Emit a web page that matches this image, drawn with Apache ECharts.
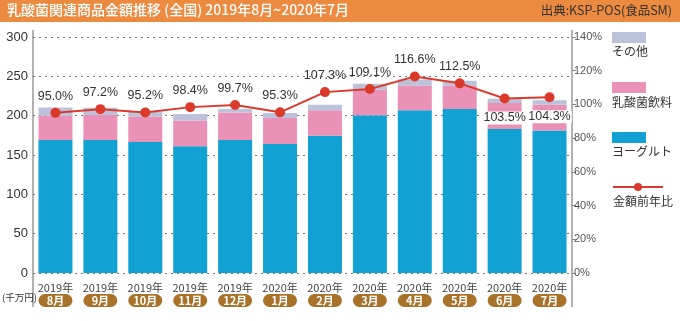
<!DOCTYPE html>
<html><head><meta charset="utf-8">
<script src="https://cdn.jsdelivr.net/npm/echarts@6/dist/echarts.min.js"></script>
<style>html,body{margin:0;padding:0;background:#fff}#c{width:680px;height:321px}</style>
</head><body><div id="c"></div>
<script>
const years = ['2019年','2019年','2019年','2019年','2019年','2020年','2020年','2020年','2020年','2020年','2020年','2020年'];
const months = ['8月','9月','10月','11月','12月','1月','2月','3月','4月','5月','6月','7月'];
const yogurt = [169, 169, 166.5, 161, 169, 164, 174.5, 200.5, 207, 208.5, 183, 181];
const drink = [31, 32, 32.5, 33, 35, 33, 32.5, 32.5, 31.5, 29.5, 33, 33];
const other = [10.5, 9, 6, 8, 4.5, 6.5, 7, 7.5, 7.5, 6.5, 5.5, 5.5];
const yoy = [95.0, 97.2, 95.2, 98.4, 99.7, 95.3, 107.3, 109.1, 116.6, 112.5, 103.5, 104.3];
const leftTicks = [0, 300, 50];
const rightTicks = [0, 140, 20];

const FONT = '"Noto Sans CJK JP","Liberation Sans",sans-serif';
const categories = months.map((m, i) => years[i] + '|' + m);
const yoyData = yoy.map((v, i) => (i >= 10 ? {
  value: v,
  label: { position: 'bottom', distance: 8, backgroundColor: '#fff', padding: [0, 1] }
} : v));

const chart = echarts.init(document.getElementById('c'), null, { renderer: 'canvas' });
const legendCommon = { orient: 'vertical', left: 612, itemGap: 0, padding: 0, selectedMode: false,
  formatter: () => '', textStyle: { fontSize: 1, lineHeight: 1 } };
chart.setOption({
  animation: false,
  textStyle: { fontFamily: FONT },
  grid: { left: 33, right: 108, top: 37, bottom: 48, containLabel: false },
  legend: [
    Object.assign({ top: 32, itemWidth: 34, itemHeight: 11, icon: 'rect', data: ['その他'] }, legendCommon),
    Object.assign({ top: 82, itemWidth: 34, itemHeight: 11, icon: 'rect', data: ['乳酸菌飲料'] }, legendCommon),
    Object.assign({ top: 132, itemWidth: 34, itemHeight: 11, icon: 'rect', data: ['ヨーグルト'] }, legendCommon),
    Object.assign({ top: 183, itemWidth: 50, itemHeight: 10, data: ['金額前年比'] }, legendCommon)
  ],
  xAxis: {
    type: 'category',
    data: categories,
    axisLine: { show: false },
    axisTick: { show: false },
    axisLabel: {
      interval: 0,
      margin: 8,
      formatter: v => { const p = v.split('|'); return '{y|' + p[0] + '}\n{m|' + p[1] + '}'; },
      rich: {
        y: { fontSize: 11, color: '#444', fontFamily: FONT, lineHeight: 13 },
        m: { fontSize: 11, fontWeight: 'bold', color: '#fff', backgroundColor: '#A8722A',
             width: 34, height: 13, lineHeight: 13, borderRadius: 7, align: 'center', fontFamily: FONT }
      }
    }
  },
  yAxis: [
    {
      type: 'value', min: leftTicks[0], max: leftTicks[1], interval: leftTicks[2],
      axisLine: { show: false }, axisTick: { show: false },
      axisLabel: { fontSize: 13, color: '#333', margin: 5, fontFamily: '"Liberation Sans",sans-serif' },
      splitLine: { lineStyle: { type: [2, 4], color: '#777', width: 1.2 } }
    },
    {
      type: 'value', min: rightTicks[0], max: rightTicks[1], interval: rightTicks[2],
      position: 'right', alignTicks: false,
      axisLine: { show: false },
      axisTick: { show: true, length: 4, lineStyle: { color: '#888' } },
      axisLabel: { formatter: '{value}%', fontSize: 11, color: '#555', margin: 2,
                   fontFamily: '"Liberation Sans Narrow","Liberation Sans",sans-serif' },
      splitLine: { show: false }
    }
  ],
  series: [
    { name: 'ヨーグルト', type: 'bar', stack: 't', data: yogurt, barWidth: 34,
      itemStyle: { color: '#12A1D3' } },
    { name: '乳酸菌飲料', type: 'bar', stack: 't', data: drink, barWidth: 34,
      itemStyle: { color: '#E991B6' } },
    { name: 'その他', type: 'bar', stack: 't', data: other, barWidth: 34,
      itemStyle: { color: '#BCC2D9' } },
    { name: '金額前年比', type: 'line', yAxisIndex: 1, data: yoyData,
      symbol: 'circle', symbolSize: 10,
      lineStyle: { color: '#DB3A2B', width: 2 },
      itemStyle: { color: '#DB3A2B' },
      label: { show: true, position: 'top', distance: 5, fontSize: 12.5, color: '#333',
               fontFamily: '"Liberation Sans",sans-serif', formatter: p => p.value.toFixed(1) + '%' },
      z: 10 }
  ],
  graphic: [
    { type: 'rect', left: 0, top: 0, shape: { width: 680, height: 22 }, style: { fill: '#EC8A3F' }, z: 0 },
    { type: 'text', left: 7, top: 3, style: { text: '乳酸菌関連商品金額推移 (全国) 2019年8月~2020年7月',
      fill: '#fff', font: '500 14px ' + FONT } },
    { type: 'text', right: 8, top: 4, style: { text: '出典:KSP-POS(食品SM)', fill: '#333', font: '12.5px ' + FONT } },
    { type: 'line', shape: { x1: 33, y1: 30, x2: 33, y2: 307 }, style: { stroke: '#999', lineWidth: 1.5 } },
    { type: 'line', shape: { x1: 572, y1: 30, x2: 572, y2: 307 }, style: { stroke: '#999', lineWidth: 1.5 } },
    { type: 'text', left: 2, top: 293, style: { text: '(千万円)', fill: '#333', font: '9.5px ' + FONT } },
    { type: 'text', left: 612, top: 45, style: { text: 'その他', fill: '#333', font: '12px ' + FONT } },
    { type: 'text', left: 612, top: 96, style: { text: '乳酸菌飲料', fill: '#333', font: '12px ' + FONT } },
    { type: 'text', left: 612, top: 145, style: { text: 'ヨーグルト', fill: '#333', font: '12px ' + FONT } },
    { type: 'text', left: 613, top: 195, style: { text: '金額前年比', fill: '#333', font: '12px ' + FONT } }
  ]
});
</script></body></html>
